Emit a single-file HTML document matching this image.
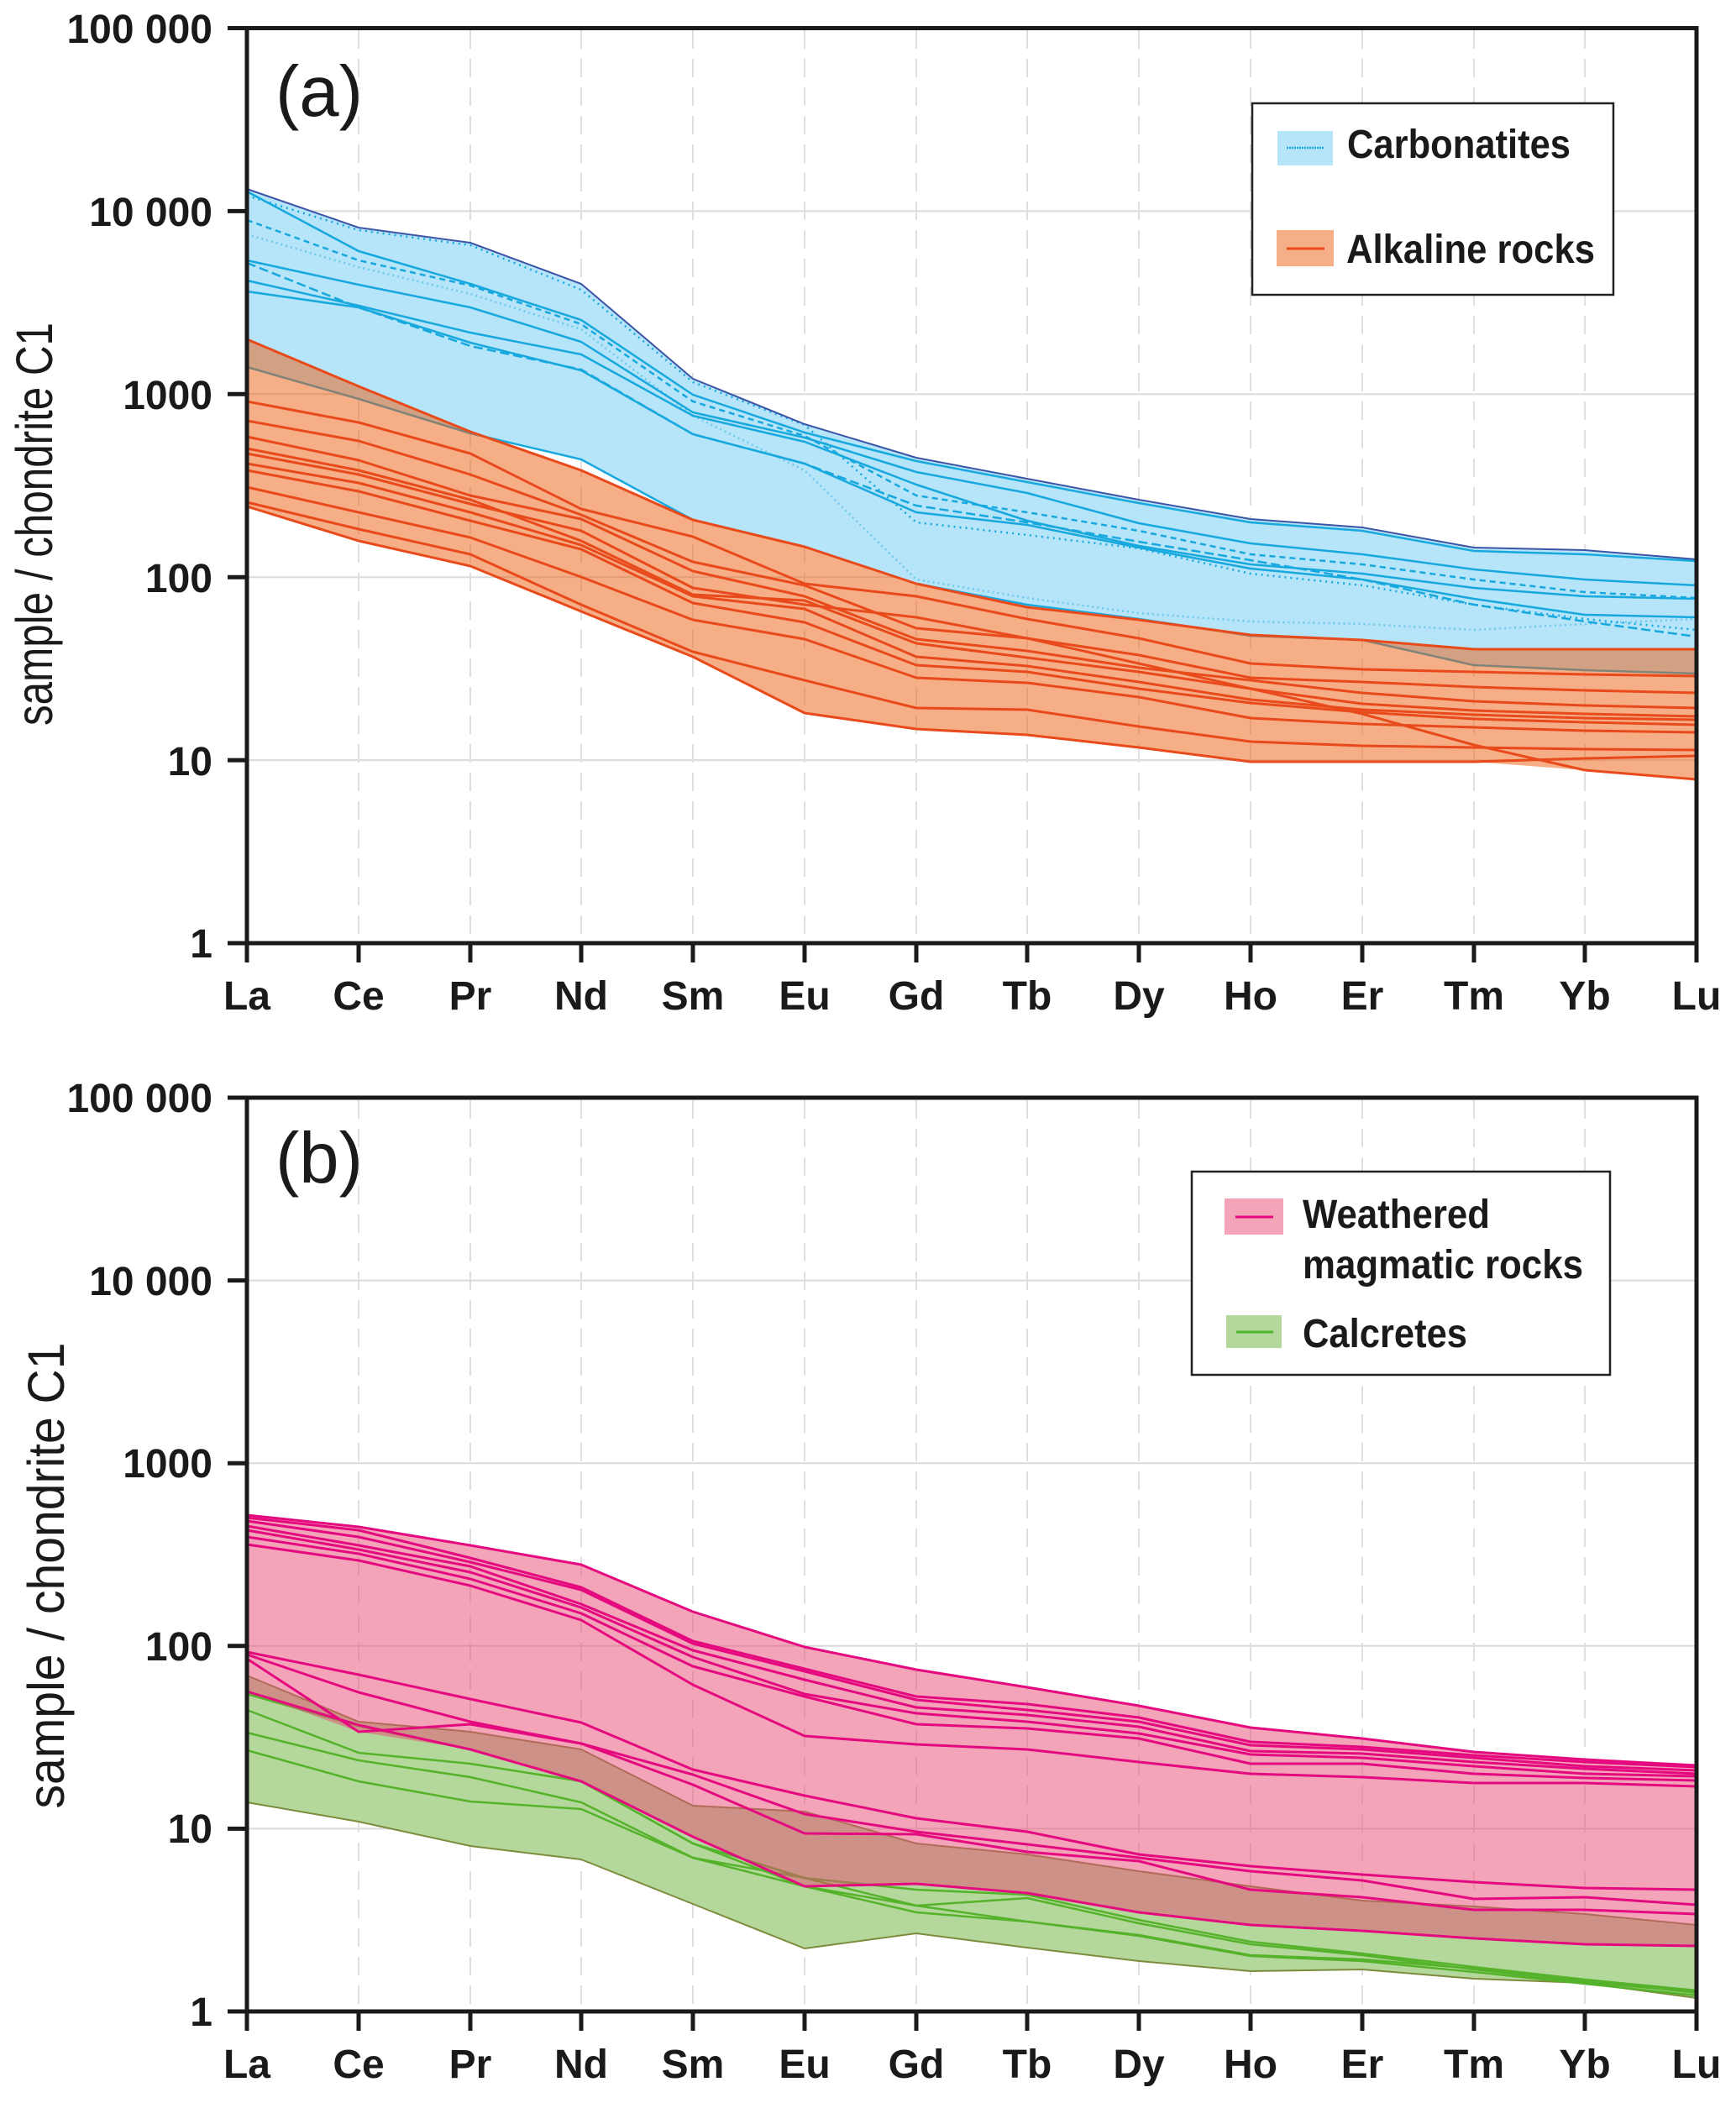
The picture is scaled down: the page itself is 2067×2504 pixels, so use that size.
<!DOCTYPE html>
<html><head><meta charset="utf-8"><style>
html,body{margin:0;padding:0;background:#fff;}
svg{display:block;}
text{font-family:"Liberation Sans",Arial,sans-serif;fill:#1a1a1a;}
.tk{font-size:48px;font-weight:bold;text-anchor:end;}
.xl{font-size:48px;font-weight:bold;text-anchor:middle;}
.lg{font-size:48px;font-weight:bold;}
.bl{fill:none;stroke:#17a8de;stroke-width:2.5;stroke-linejoin:round;}
.ol{fill:none;stroke:#e84a1b;stroke-width:3;stroke-linejoin:round;}
.pl{fill:none;stroke:#e5097f;stroke-width:3;stroke-linejoin:round;}
.gl{fill:none;stroke:#55b22b;stroke-width:2.5;stroke-linejoin:round;}
.ge{fill:none;stroke:#7d8c3c;stroke-width:2;stroke-linejoin:round;}
.hg{stroke:#dadada;stroke-width:2;}
.vg{stroke:#e0e0e0;stroke-width:2;stroke-dasharray:22 12;}
.ax{stroke:#1a1a1a;stroke-width:5;fill:none;}
</style></head><body>
<svg width="2067" height="2504" viewBox="0 0 2067 2504" xmlns="http://www.w3.org/2000/svg">
<rect width="2067" height="2504" fill="#fff"/>

<!-- ================= PANEL A ================= -->
<g>
<line class="hg" x1="294" y1="251.4" x2="2020" y2="251.4"/>
<line class="hg" x1="294" y1="469.3" x2="2020" y2="469.3"/>
<line class="hg" x1="294" y1="687.2" x2="2020" y2="687.2"/>
<line class="hg" x1="294" y1="905.1" x2="2020" y2="905.1"/>
<line class="vg" x1="427" y1="36" x2="427" y2="1121"/>
<line class="vg" x1="560" y1="36" x2="560" y2="1121"/>
<line class="vg" x1="692" y1="36" x2="692" y2="1121"/>
<line class="vg" x1="825" y1="36" x2="825" y2="1121"/>
<line class="vg" x1="958" y1="36" x2="958" y2="1121"/>
<line class="vg" x1="1091" y1="36" x2="1091" y2="1121"/>
<line class="vg" x1="1223" y1="36" x2="1223" y2="1121"/>
<line class="vg" x1="1356" y1="36" x2="1356" y2="1121"/>
<line class="vg" x1="1489" y1="36" x2="1489" y2="1121"/>
<line class="vg" x1="1622" y1="36" x2="1622" y2="1121"/>
<line class="vg" x1="1755" y1="36" x2="1755" y2="1121"/>
<line class="vg" x1="1887" y1="36" x2="1887" y2="1121"/>

<!-- blue field -->
<polygon fill="#b6e4f8" points="294,225 427,271 560,289 692,338 825,451 958,505 1091,545 1223,570 1356,595 1489,618 1622,628 1755,652 1887,655 2020,666 2020,802 1887,798 1755,792 1622,762 1489,757 1356,737 1223,720 1091,695 958,651 825,619 692,547 560,516 427,475 294,437"/>
<polyline class="bl" stroke-dasharray="2 4" stroke-width="1.5" opacity="0.45" points="294,279 427,318 560,350 692,392 825,495 958,560 1091,690 1223,712 1356,730 1489,740 1622,743 1755,750 1887,743 2020,737"/>
<polyline class="bl" points="294,228 427,299 560,338 692,381 825,470 958,515 1091,549 1223,574 1356,599 1489,622 1622,632 1755,656 1887,660 2020,668"/>
<polyline class="bl" stroke-dasharray="2 5" stroke-width="3" points="294,233 427,274 560,292 692,345 825,455 958,506 1091,622 1223,637 1356,653 1489,683 1622,697 1755,720 1887,737 2020,750"/>
<polyline class="bl" stroke-dasharray="7 5" points="294,262 427,310 560,340 692,386 825,478 958,519 1091,590 1223,610 1356,632 1489,660 1622,672 1755,690 1887,705 2020,712"/>
<polyline class="bl" points="294,310 427,339 560,366 692,407 825,491 958,521 1091,562 1223,587 1356,623 1489,647 1622,660 1755,678 1887,690 2020,697"/>
<polyline class="bl" stroke-dasharray="11 5" stroke-width="4" points="294,313 427,366 560,412 692,440 825,517 958,552 1091,602 1223,622 1356,645 1489,667 1622,690 1755,720 1887,740 2020,758"/>
<polyline class="bl" points="294,334 427,364 560,396 692,422 825,495 958,526 1091,577 1223,620 1356,650 1489,672 1622,683 1755,700 1887,710 2020,713"/>
<polyline class="bl" points="294,347 427,366 560,408 692,441 825,517 958,552 1091,610 1223,625 1356,652 1489,677 1622,690 1755,713 1887,732 2020,735"/>
<polyline class="bl" stroke-width="3" points="294,437 427,475 560,516 692,547 825,619 958,651 1091,695 1223,720 1356,737 1489,757 1622,762 1755,792 1887,798 2020,802"/>
<polyline fill="none" stroke="#3b54a5" stroke-width="2" points="294,225 427,271 560,289 692,338 825,451 958,505 1091,545 1223,570 1356,595 1489,618 1622,628 1755,652 1887,655 2020,666"/>

<!-- orange field -->
<polygon fill="rgb(237,93,15)" fill-opacity="0.5" points="294,404 427,460 560,514 692,560 825,619 958,651 1091,695 1223,723 1356,738 1489,756 1622,762 1755,773 1887,773 2020,773 2020,928 1887,917 1755,907 1622,907 1489,907 1356,890 1223,875 1091,868 958,849 825,782 692,728 560,674 427,644 294,603"/>
<polyline class="ol" points="294,404 427,460 560,514 692,560 825,619 958,651 1091,695 1223,723 1356,738 1489,756 1622,762 1755,773 1887,773 2020,773"/>
<polyline class="ol" points="294,478 427,503 560,540 692,606 825,639 958,695 1091,710 1223,737 1356,760 1489,790 1622,797 1755,800 1887,803 2020,805"/>
<polyline class="ol" points="294,501 427,525 560,565 692,613 825,669 958,697 1091,748 1223,760 1356,780 1489,807 1622,812 1755,818 1887,822 2020,825"/>
<polyline class="ol" points="294,520 427,548 560,590 692,618 825,680 958,710 1091,761 1223,775 1356,795 1489,810 1622,825 1755,835 1887,840 2020,843"/>
<polyline class="ol" points="294,534 427,560 560,595 692,644 825,708 958,715 1091,766 1223,783 1356,800 1489,820 1622,838 1755,846 1887,850 2020,853"/>
<polyline class="ol" points="294,552 427,575 560,610 692,649 825,710 958,725 1091,782 1223,793 1356,812 1489,833 1622,845 1755,851 1887,855 2020,857"/>
<polyline class="ol" points="294,560 427,585 560,620 692,654 825,718 958,741 1091,792 1223,800 1356,820 1489,837 1622,848 1755,856 1887,860 2020,863"/>
<polyline class="ol" points="294,580 427,610 560,640 692,687 825,738 958,761 1091,807 1223,813 1356,830 1489,855 1622,862 1755,866 1887,870 2020,872"/>
<polyline class="ol" points="294,598 427,630 560,660 692,720 825,776 958,810 1091,843 1223,845 1356,865 1489,883 1622,888 1755,890 1887,892 2020,893"/>
<polyline class="ol" points="294,603 427,644 560,674 692,728 825,782 958,849 1091,868 1223,875 1356,890 1489,907 1622,907 1755,907 1887,903 2020,900"/>
<polyline class="ol" points="294,540 427,565 560,600 692,632 825,700 958,720 1091,735 1223,760 1356,790 1489,820 1622,850 1755,887 1887,917 2020,928"/>

<!-- axes box -->
<rect class="ax" x="294" y="33.5" width="1726" height="1089.5"/>
<line class="ax" x1="271" y1="33.5" x2="294" y2="33.5"/>
<line class="ax" x1="271" y1="251.4" x2="294" y2="251.4"/>
<line class="ax" x1="271" y1="469.3" x2="294" y2="469.3"/>
<line class="ax" x1="271" y1="687.2" x2="294" y2="687.2"/>
<line class="ax" x1="271" y1="905.1" x2="294" y2="905.1"/>
<line class="ax" x1="271" y1="1123" x2="294" y2="1123"/>
<g class="ax">
<line x1="294" y1="1123" x2="294" y2="1146"/><line x1="427" y1="1123" x2="427" y2="1146"/><line x1="560" y1="1123" x2="560" y2="1146"/><line x1="692" y1="1123" x2="692" y2="1146"/><line x1="825" y1="1123" x2="825" y2="1146"/><line x1="958" y1="1123" x2="958" y2="1146"/><line x1="1091" y1="1123" x2="1091" y2="1146"/><line x1="1223" y1="1123" x2="1223" y2="1146"/><line x1="1356" y1="1123" x2="1356" y2="1146"/><line x1="1489" y1="1123" x2="1489" y2="1146"/><line x1="1622" y1="1123" x2="1622" y2="1146"/><line x1="1755" y1="1123" x2="1755" y2="1146"/><line x1="1887" y1="1123" x2="1887" y2="1146"/><line x1="2020" y1="1123" x2="2020" y2="1146"/>
</g>
<text class="tk" x="253" y="51">100 000</text>
<text class="tk" x="253" y="269">10 000</text>
<text class="tk" x="253" y="487">1000</text>
<text class="tk" x="253" y="705">100</text>
<text class="tk" x="253" y="923">10</text>
<text class="tk" x="253" y="1140">1</text>
<text class="xl" x="294" y="1202">La</text><text class="xl" x="427" y="1202">Ce</text><text class="xl" x="560" y="1202">Pr</text><text class="xl" x="692" y="1202">Nd</text><text class="xl" x="825" y="1202">Sm</text><text class="xl" x="958" y="1202">Eu</text><text class="xl" x="1091" y="1202">Gd</text><text class="xl" x="1223" y="1202">Tb</text><text class="xl" x="1356" y="1202">Dy</text><text class="xl" x="1489" y="1202">Ho</text><text class="xl" x="1622" y="1202">Er</text><text class="xl" x="1755" y="1202">Tm</text><text class="xl" x="1887" y="1202">Yb</text><text class="xl" x="2020" y="1202">Lu</text>
<text x="0" y="0" transform="translate(62,624) rotate(-90)" font-size="61" text-anchor="middle" textLength="480" lengthAdjust="spacingAndGlyphs">sample / chondrite C1</text>
<text x="328" y="138" font-size="85">(a)</text>

<!-- legend a -->
<rect x="1491" y="123" width="430" height="228" fill="#fff" stroke="#222" stroke-width="2.5"/>
<rect x="1521" y="156" width="66" height="41" fill="#b6e4f8"/>
<line x1="1532" y1="176" x2="1576" y2="176" stroke="#17a8de" stroke-width="2.5" stroke-dasharray="2 1"/>
<text class="lg" x="1604" y="188" textLength="266" lengthAdjust="spacingAndGlyphs">Carbonatites</text>
<rect x="1520" y="274" width="68" height="43" fill="#f6ae86"/>
<line x1="1532" y1="296" x2="1577" y2="296" stroke="#e84a1b" stroke-width="3"/>
<text class="lg" x="1603" y="313" textLength="296" lengthAdjust="spacingAndGlyphs">Alkaline rocks</text>
</g>

<!-- ================= PANEL B ================= -->
<g>
<line class="hg" x1="294" y1="1524.6" x2="2020" y2="1524.6"/>
<line class="hg" x1="294" y1="1742.2" x2="2020" y2="1742.2"/>
<line class="hg" x1="294" y1="1959.8" x2="2020" y2="1959.8"/>
<line class="hg" x1="294" y1="2177.4" x2="2020" y2="2177.4"/>
<line class="vg" x1="427" y1="1310" x2="427" y2="2393"/>
<line class="vg" x1="560" y1="1310" x2="560" y2="2393"/>
<line class="vg" x1="692" y1="1310" x2="692" y2="2393"/>
<line class="vg" x1="825" y1="1310" x2="825" y2="2393"/>
<line class="vg" x1="958" y1="1310" x2="958" y2="2393"/>
<line class="vg" x1="1091" y1="1310" x2="1091" y2="2393"/>
<line class="vg" x1="1223" y1="1310" x2="1223" y2="2393"/>
<line class="vg" x1="1356" y1="1310" x2="1356" y2="2393"/>
<line class="vg" x1="1489" y1="1310" x2="1489" y2="2393"/>
<line class="vg" x1="1622" y1="1310" x2="1622" y2="2393"/>
<line class="vg" x1="1755" y1="1310" x2="1755" y2="2393"/>
<line class="vg" x1="1887" y1="1310" x2="1887" y2="2393"/>

<!-- green field -->
<polygon fill="#b4d89c" points="294,1995 427,2050 560,2062 692,2083 825,2150 958,2157 1091,2195 1223,2208 1356,2228 1489,2246 1622,2263 1755,2270 1887,2279 2020,2292 2020,2379 1887,2361 1755,2356 1622,2345 1489,2347 1356,2335 1223,2319 1091,2302 958,2320 825,2267 692,2214 560,2198 427,2169 294,2146"/>
<polyline class="ge" points="294,1995 427,2050 560,2062 692,2083 825,2150 958,2157 1091,2195 1223,2208 1356,2228 1489,2246 1622,2263 1755,2270 1887,2279 2020,2292"/>
<polyline class="ge" points="294,2146 427,2169 560,2198 692,2214 825,2267 958,2320 1091,2302 1223,2319 1356,2335 1489,2347 1622,2345 1755,2356 1887,2361 2020,2379"/>
<polyline class="gl" points="294,2017 427,2055 560,2083 692,2121 825,2195 958,2236 1091,2250 1223,2256 1356,2286 1489,2312 1622,2326 1755,2342 1887,2357 2020,2370"/>
<polyline class="gl" points="294,2036 427,2087 560,2100 692,2121 825,2195 958,2246 1091,2269 1223,2260 1356,2290 1489,2315 1622,2328 1755,2345 1887,2360 2020,2372"/>
<polyline class="gl" points="294,2063 427,2096 560,2116 692,2146 825,2212 958,2236 1091,2269 1223,2288 1356,2304 1489,2328 1622,2333 1755,2344 1887,2358 2020,2373"/>
<polyline class="gl" points="294,2084 427,2121 560,2145 692,2154 825,2212 958,2246 1091,2277 1223,2288 1356,2305 1489,2329 1622,2335 1755,2348 1887,2362 2020,2376"/>

<!-- pink field -->
<polygon fill="rgb(231,73,115)" fill-opacity="0.5" points="294,1804 427,1818 560,1840 692,1863 825,1919 958,1961 1091,1988 1223,2009 1356,2031 1489,2057 1622,2070 1755,2086 1887,2095 2020,2102 2020,2317 1887,2315 1755,2308 1622,2299 1489,2292 1356,2277 1223,2254 1091,2243 958,2246 825,2187 692,2121 560,2083 427,2062 294,2014"/>
<polyline class="pl" points="294,1804 427,1818 560,1840 692,1863 825,1919 958,1961 1091,1988 1223,2009 1356,2031 1489,2057 1622,2070 1755,2086 1887,2095 2020,2102"/>
<polyline class="pl" points="294,1807 427,1822 560,1855 692,1890 825,1954 958,1987 1091,2020 1223,2029 1356,2045 1489,2074 1622,2080 1755,2090 1887,2098 2020,2104"/>
<polyline class="pl" points="294,1811 427,1830 560,1860 692,1893 825,1957 958,1990 1091,2024 1223,2036 1356,2050 1489,2078 1622,2083 1755,2093 1887,2103 2020,2108"/>
<polyline class="pl" points="294,1817 427,1840 560,1865 692,1910 825,1965 958,2000 1091,2033 1223,2042 1356,2056 1489,2085 1622,2088 1755,2098 1887,2106 2020,2112"/>
<polyline class="pl" points="294,1822 427,1845 560,1872 692,1914 825,1973 958,2017 1091,2040 1223,2050 1356,2064 1489,2089 1622,2093 1755,2103 1887,2112 2020,2115"/>
<polyline class="pl" points="294,1830 427,1850 560,1880 692,1921 825,1984 958,2020 1091,2053 1223,2058 1356,2070 1489,2100 1622,2100 1755,2112 1887,2117 2020,2120"/>
<polyline class="pl" points="294,1839 427,1858 560,1888 692,1929 825,2006 958,2067 1091,2077 1223,2083 1356,2098 1489,2112 1622,2116 1755,2123 1887,2123 2020,2127"/>
<polyline class="pl" points="294,1967 427,1994 560,2023 692,2051 825,2107 958,2138 1091,2165 1223,2181 1356,2208 1489,2222 1622,2232 1755,2241 1887,2248 2020,2250"/>
<polyline class="pl" points="294,1970 427,2015 560,2050 692,2076 825,2113 958,2160 1091,2181 1223,2196 1356,2212 1489,2228 1622,2239 1755,2261 1887,2259 2020,2268"/>
<polyline class="pl" points="294,1975 427,2062 560,2053 692,2076 825,2125 958,2183 1091,2184 1223,2205 1356,2216 1489,2250 1622,2259 1755,2274 1887,2274 2020,2279"/>
<polyline class="pl" points="294,2014 427,2054 560,2083 692,2121 825,2187 958,2246 1091,2243 1223,2254 1356,2277 1489,2292 1622,2299 1755,2308 1887,2315 2020,2317"/>

<!-- axes -->
<rect class="ax" x="294" y="1307" width="1726" height="1088"/>
<line class="ax" x1="271" y1="1307" x2="294" y2="1307"/>
<line class="ax" x1="271" y1="1524.6" x2="294" y2="1524.6"/>
<line class="ax" x1="271" y1="1742.2" x2="294" y2="1742.2"/>
<line class="ax" x1="271" y1="1959.8" x2="294" y2="1959.8"/>
<line class="ax" x1="271" y1="2177.4" x2="294" y2="2177.4"/>
<line class="ax" x1="271" y1="2395" x2="294" y2="2395"/>
<g class="ax">
<line x1="294" y1="2395" x2="294" y2="2418"/><line x1="427" y1="2395" x2="427" y2="2418"/><line x1="560" y1="2395" x2="560" y2="2418"/><line x1="692" y1="2395" x2="692" y2="2418"/><line x1="825" y1="2395" x2="825" y2="2418"/><line x1="958" y1="2395" x2="958" y2="2418"/><line x1="1091" y1="2395" x2="1091" y2="2418"/><line x1="1223" y1="2395" x2="1223" y2="2418"/><line x1="1356" y1="2395" x2="1356" y2="2418"/><line x1="1489" y1="2395" x2="1489" y2="2418"/><line x1="1622" y1="2395" x2="1622" y2="2418"/><line x1="1755" y1="2395" x2="1755" y2="2418"/><line x1="1887" y1="2395" x2="1887" y2="2418"/><line x1="2020" y1="2395" x2="2020" y2="2418"/>
</g>
<text class="tk" x="253" y="1324">100 000</text>
<text class="tk" x="253" y="1542">10 000</text>
<text class="tk" x="253" y="1759">1000</text>
<text class="tk" x="253" y="1977">100</text>
<text class="tk" x="253" y="2194">10</text>
<text class="tk" x="253" y="2412">1</text>
<text class="xl" x="294" y="2474">La</text><text class="xl" x="427" y="2474">Ce</text><text class="xl" x="560" y="2474">Pr</text><text class="xl" x="692" y="2474">Nd</text><text class="xl" x="825" y="2474">Sm</text><text class="xl" x="958" y="2474">Eu</text><text class="xl" x="1091" y="2474">Gd</text><text class="xl" x="1223" y="2474">Tb</text><text class="xl" x="1356" y="2474">Dy</text><text class="xl" x="1489" y="2474">Ho</text><text class="xl" x="1622" y="2474">Er</text><text class="xl" x="1755" y="2474">Tm</text><text class="xl" x="1887" y="2474">Yb</text><text class="xl" x="2020" y="2474">Lu</text>
<text x="0" y="0" transform="translate(76,1876) rotate(-90)" font-size="61" text-anchor="middle" textLength="555" lengthAdjust="spacingAndGlyphs">sample / chondrite C1</text>
<text x="328" y="1408" font-size="85">(b)</text>

<!-- legend b -->
<rect x="1419" y="1395" width="498" height="242" fill="#fff" stroke="#222" stroke-width="2.5"/>
<rect x="1458" y="1427" width="70" height="43" fill="#f3a4b9"/>
<line x1="1471" y1="1449" x2="1516" y2="1449" stroke="#e5097f" stroke-width="3"/>
<text class="lg" x="1551" y="1462" textLength="223" lengthAdjust="spacingAndGlyphs">Weathered</text>
<text class="lg" x="1551" y="1522" textLength="334" lengthAdjust="spacingAndGlyphs">magmatic rocks</text>
<rect x="1460" y="1566" width="66" height="39" fill="#b4d89c"/>
<line x1="1472" y1="1586" x2="1516" y2="1586" stroke="#4bb52a" stroke-width="3"/>
<text class="lg" x="1551" y="1604" textLength="196" lengthAdjust="spacingAndGlyphs">Calcretes</text>
</g>
</svg>
</body></html>
